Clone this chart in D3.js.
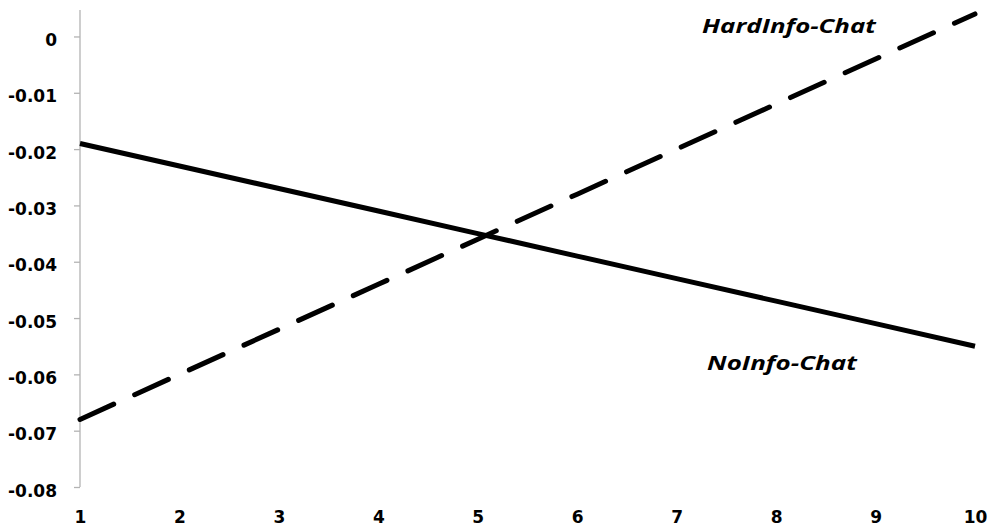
<!DOCTYPE html>
<html><head><meta charset="utf-8">
<script src="https://cdn.jsdelivr.net/npm/d3@7"></script>
<style>body{margin:0;background:#fff;} svg{display:block;}</style>
</head><body>
<script>
const xValues = [1,2,3,4,5,6,7,8,9,10];
const noInfoChat = [-0.019,-0.023,-0.027,-0.031,-0.035,-0.039,-0.043,-0.047,-0.051,-0.055];
const hardInfoChat = [-0.068,-0.060,-0.052,-0.044,-0.036,-0.028,-0.020,-0.012,-0.004,0.004];
const yTicks = [0,-0.01,-0.02,-0.03,-0.04,-0.05,-0.06,-0.07,-0.08];
const yTickLabels = ["0","-0.01","-0.02","-0.03","-0.04","-0.05","-0.06","-0.07","-0.08"];
const seriesLabels = ["HardInfo-Chat","NoInfo-Chat"];

const W=990,H=529;
const svg=d3.select("body").append("svg").attr("width",W).attr("height",H);
const x=d3.scaleLinear().domain([1,10]).range([80,975]);
const y=d3.scaleLinear().domain([-0.08,0.0047]).range([487,10]);
const font="'Open Sans', sans-serif";
const tickFont="'DejaVu Sans', sans-serif";

// y axis
const yAxis=d3.axisLeft(y).tickValues(yTicks).tickSize(6).tickPadding(17)
  .tickFormat((d,i)=>yTickLabels[i]);
const gy=svg.append("g").attr("transform","translate(80,0)").call(yAxis);
gy.select(".domain").attr("stroke","#b3b3b3").attr("stroke-width",1.3).attr("d",`M0,${y(0.0047)}V${y(-0.08)}`);
gy.selectAll(".tick line").attr("stroke","#b3b3b3").attr("stroke-width",1.3);
gy.selectAll(".tick text").attr("font-family",tickFont).attr("font-weight","bold").attr("font-size",17).attr("fill","#000")
  .attr("dy","0.53em");

// x axis labels (no axis line)
const xAxis=d3.axisBottom(x).tickValues(xValues).tickSize(0).tickPadding(0).tickFormat(d3.format("d"));
const gx=svg.append("g").attr("transform","translate(0,523)").call(xAxis);
gx.select(".domain").remove();
gx.selectAll(".tick text").attr("font-family",tickFont).attr("font-weight","bold").attr("font-size",17).attr("fill","#000")
  .attr("dy","0").attr("y",0);

const line=d3.line().x((d,i)=>x(xValues[i])).y(d=>y(d));
svg.append("path").datum(noInfoChat).attr("d",line).attr("fill","none").attr("stroke","#000").attr("stroke-width",5);
svg.append("path").datum(hardInfoChat).attr("d",line).attr("fill","none").attr("stroke","#000").attr("stroke-width",5)
  .attr("stroke-linecap","round").attr("stroke-dasharray","37,23");

function label(txt,x0,base,width){
  const t=svg.append("text").attr("x",0).attr("y",0).text(txt)
    .attr("font-family",font).attr("font-weight","bold").attr("font-style","italic").attr("font-size",20).attr("fill","#000");
  const sx=width/t.node().getComputedTextLength();
  t.attr("transform",`translate(${x0},${base}) scale(${sx},1)`);
}
label(seriesLabels[0],702,33,174);
label(seriesLabels[1],707,370,150);
</script>
</body></html>
